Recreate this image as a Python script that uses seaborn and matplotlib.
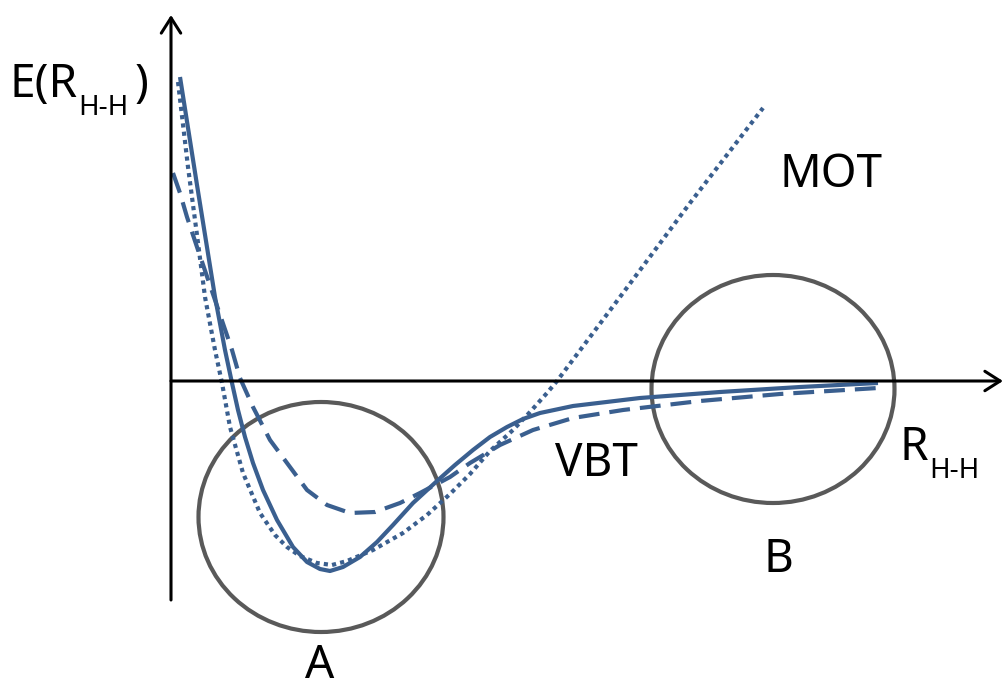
import matplotlib
matplotlib.use("Agg")
import matplotlib.pyplot as plt
from matplotlib.patches import Ellipse
import numpy as np
import pandas as pd
import seaborn as sns

# Potential-energy curves of H2: exact (solid), valence-bond (dashed), MO (dotted)
exact_r = [0.09, 0.26, 0.44, 0.54, 0.61, 0.67, 0.74, 0.82, 0.92, 1.06, 1.22, 1.36,
           1.49, 1.59, 1.72, 1.89, 2.06, 2.22, 2.42, 2.66, 2.84, 3.02, 3.19, 3.36,
           3.52, 3.69, 4.02, 4.69, 5.49, 6.29, 7.07]
exact_e = [3.04, 1.96, 0.84, 0.31, -0.02, -0.29, -0.56, -0.82, -1.09, -1.39, -1.66, -1.81,
           -1.88, -1.90, -1.86, -1.76, -1.61, -1.44, -1.22, -1.00, -0.84, -0.69, -0.56, -0.46,
           -0.38, -0.32, -0.25, -0.17, -0.11, -0.06, -0.02]

vbt_r = [0.02, 0.09, 0.16, 0.27, 0.44, 0.61, 0.69, 0.82, 0.99, 1.16, 1.36, 1.56,
         1.79, 2.04, 2.29, 2.49, 2.79, 2.99, 3.29, 3.62, 4.02, 4.52, 5.29, 6.09, 7.07]
vbt_e = [2.08, 1.88, 1.64, 1.31, 0.81, 0.31, 0.03, -0.26, -0.59, -0.82, -1.09, -1.24,
         -1.32, -1.31, -1.22, -1.12, -0.96, -0.82, -0.64, -0.49, -0.37, -0.29, -0.20, -0.13, -0.07]

mot_r = [0.07, 0.17, 0.26, 0.34, 0.44, 0.51, 0.59, 0.72, 0.89, 1.04, 1.16, 1.29, 1.46,
         1.61, 1.76, 2.02, 2.32, 2.56, 2.79, 2.99, 3.19, 3.42, 3.59, 3.76, 3.86, 4.49,
         5.19, 5.92]
mot_e = [2.99, 2.14, 1.46, 0.84, 0.31, -0.02, -0.46, -0.92, -1.32, -1.54, -1.66, -1.75, -1.82,
         -1.84, -1.80, -1.69, -1.52, -1.34, -1.13, -0.93, -0.70, -0.49, -0.31, -0.12, 0.00, 0.84,
         1.78, 2.73]

# Highlighted regions: (centre R, centre E, width, height, label)
region_a = (1.50, -1.36, 2.45, 2.30, "A")
region_b = (6.02, -0.08, 2.43, 2.28, "B")

curve_names = ["exact", "VBT", "MOT"]

frames = []
for name, r, e in zip(curve_names, [exact_r, vbt_r, mot_r], [exact_e, vbt_e, mot_e]):
    frames.append(pd.DataFrame({"R": r, "E": e, "curve": name}))
df = pd.concat(frames, ignore_index=True)

sns.set_theme(style="white")
plt.rcParams["font.family"] = ["Noto Sans", "DejaVu Sans"]
plt.rcParams["text.color"] = "black"

fig = plt.figure(figsize=(10.05, 6.87), dpi=100)
ax = fig.add_axes([0, 0, 1, 1])
ax.set_xlim(-1.71, 8.34)
ax.set_ylim(-3.06, 3.81)
ax.axis("off")

line_color = "#3A5F8F"
sns.lineplot(data=df, x="R", y="E", style="curve", units="curve", estimator=None,
             sort=False, color=line_color, linewidth=3.0,
             dashes={"exact": "", "VBT": (5, 2.4), "MOT": (1, 1)},
             legend=False, ax=ax)
for ln in ax.get_lines():
    ln.set_dash_capstyle("butt")
    ln.set_solid_capstyle("butt")
    ln.set_solid_joinstyle("round")

# Coordinate axes with open arrow heads
arrow_kw = dict(arrowstyle="->,head_length=1.1,head_width=0.7", lw=2.2,
                color="black", mutation_scale=10, shrinkA=0, shrinkB=0)
ax.annotate("", xy=(0, 3.66), xytext=(0, -2.19), arrowprops=arrow_kw)
ax.annotate("", xy=(8.32, 0), xytext=(0, 0), arrowprops=arrow_kw)

# Circled regions
for cx, cy, w, h, label in (region_a, region_b):
    ax.add_patch(Ellipse((cx, cy), w, h, fill=False, edgecolor="#595959", lw=3.0))

big = 33
small = 20
txt = dict(va="baseline", ha="left", color="black")
ax.text(-1.61, 2.84, "E(R", fontsize=big, **txt)
ax.text(-0.93, 2.66, "H-H", fontsize=small, **txt)
ax.text(-0.36, 2.84, ")", fontsize=big, **txt)

ax.text(6.09, 1.94, "MOT", fontsize=big, **txt)
ax.text(3.84, -0.95, "VBT", fontsize=big, **txt)
ax.text(7.29, -0.79, "R", fontsize=big, **txt)
ax.text(7.58, -0.97, "H-H", fontsize=small, **txt)

ax.text(1.34, -2.97, region_a[4], fontsize=big, **txt)
ax.text(5.92, -1.91, region_b[4], fontsize=big, **txt)

fig.savefig("out.png", dpi=100)
